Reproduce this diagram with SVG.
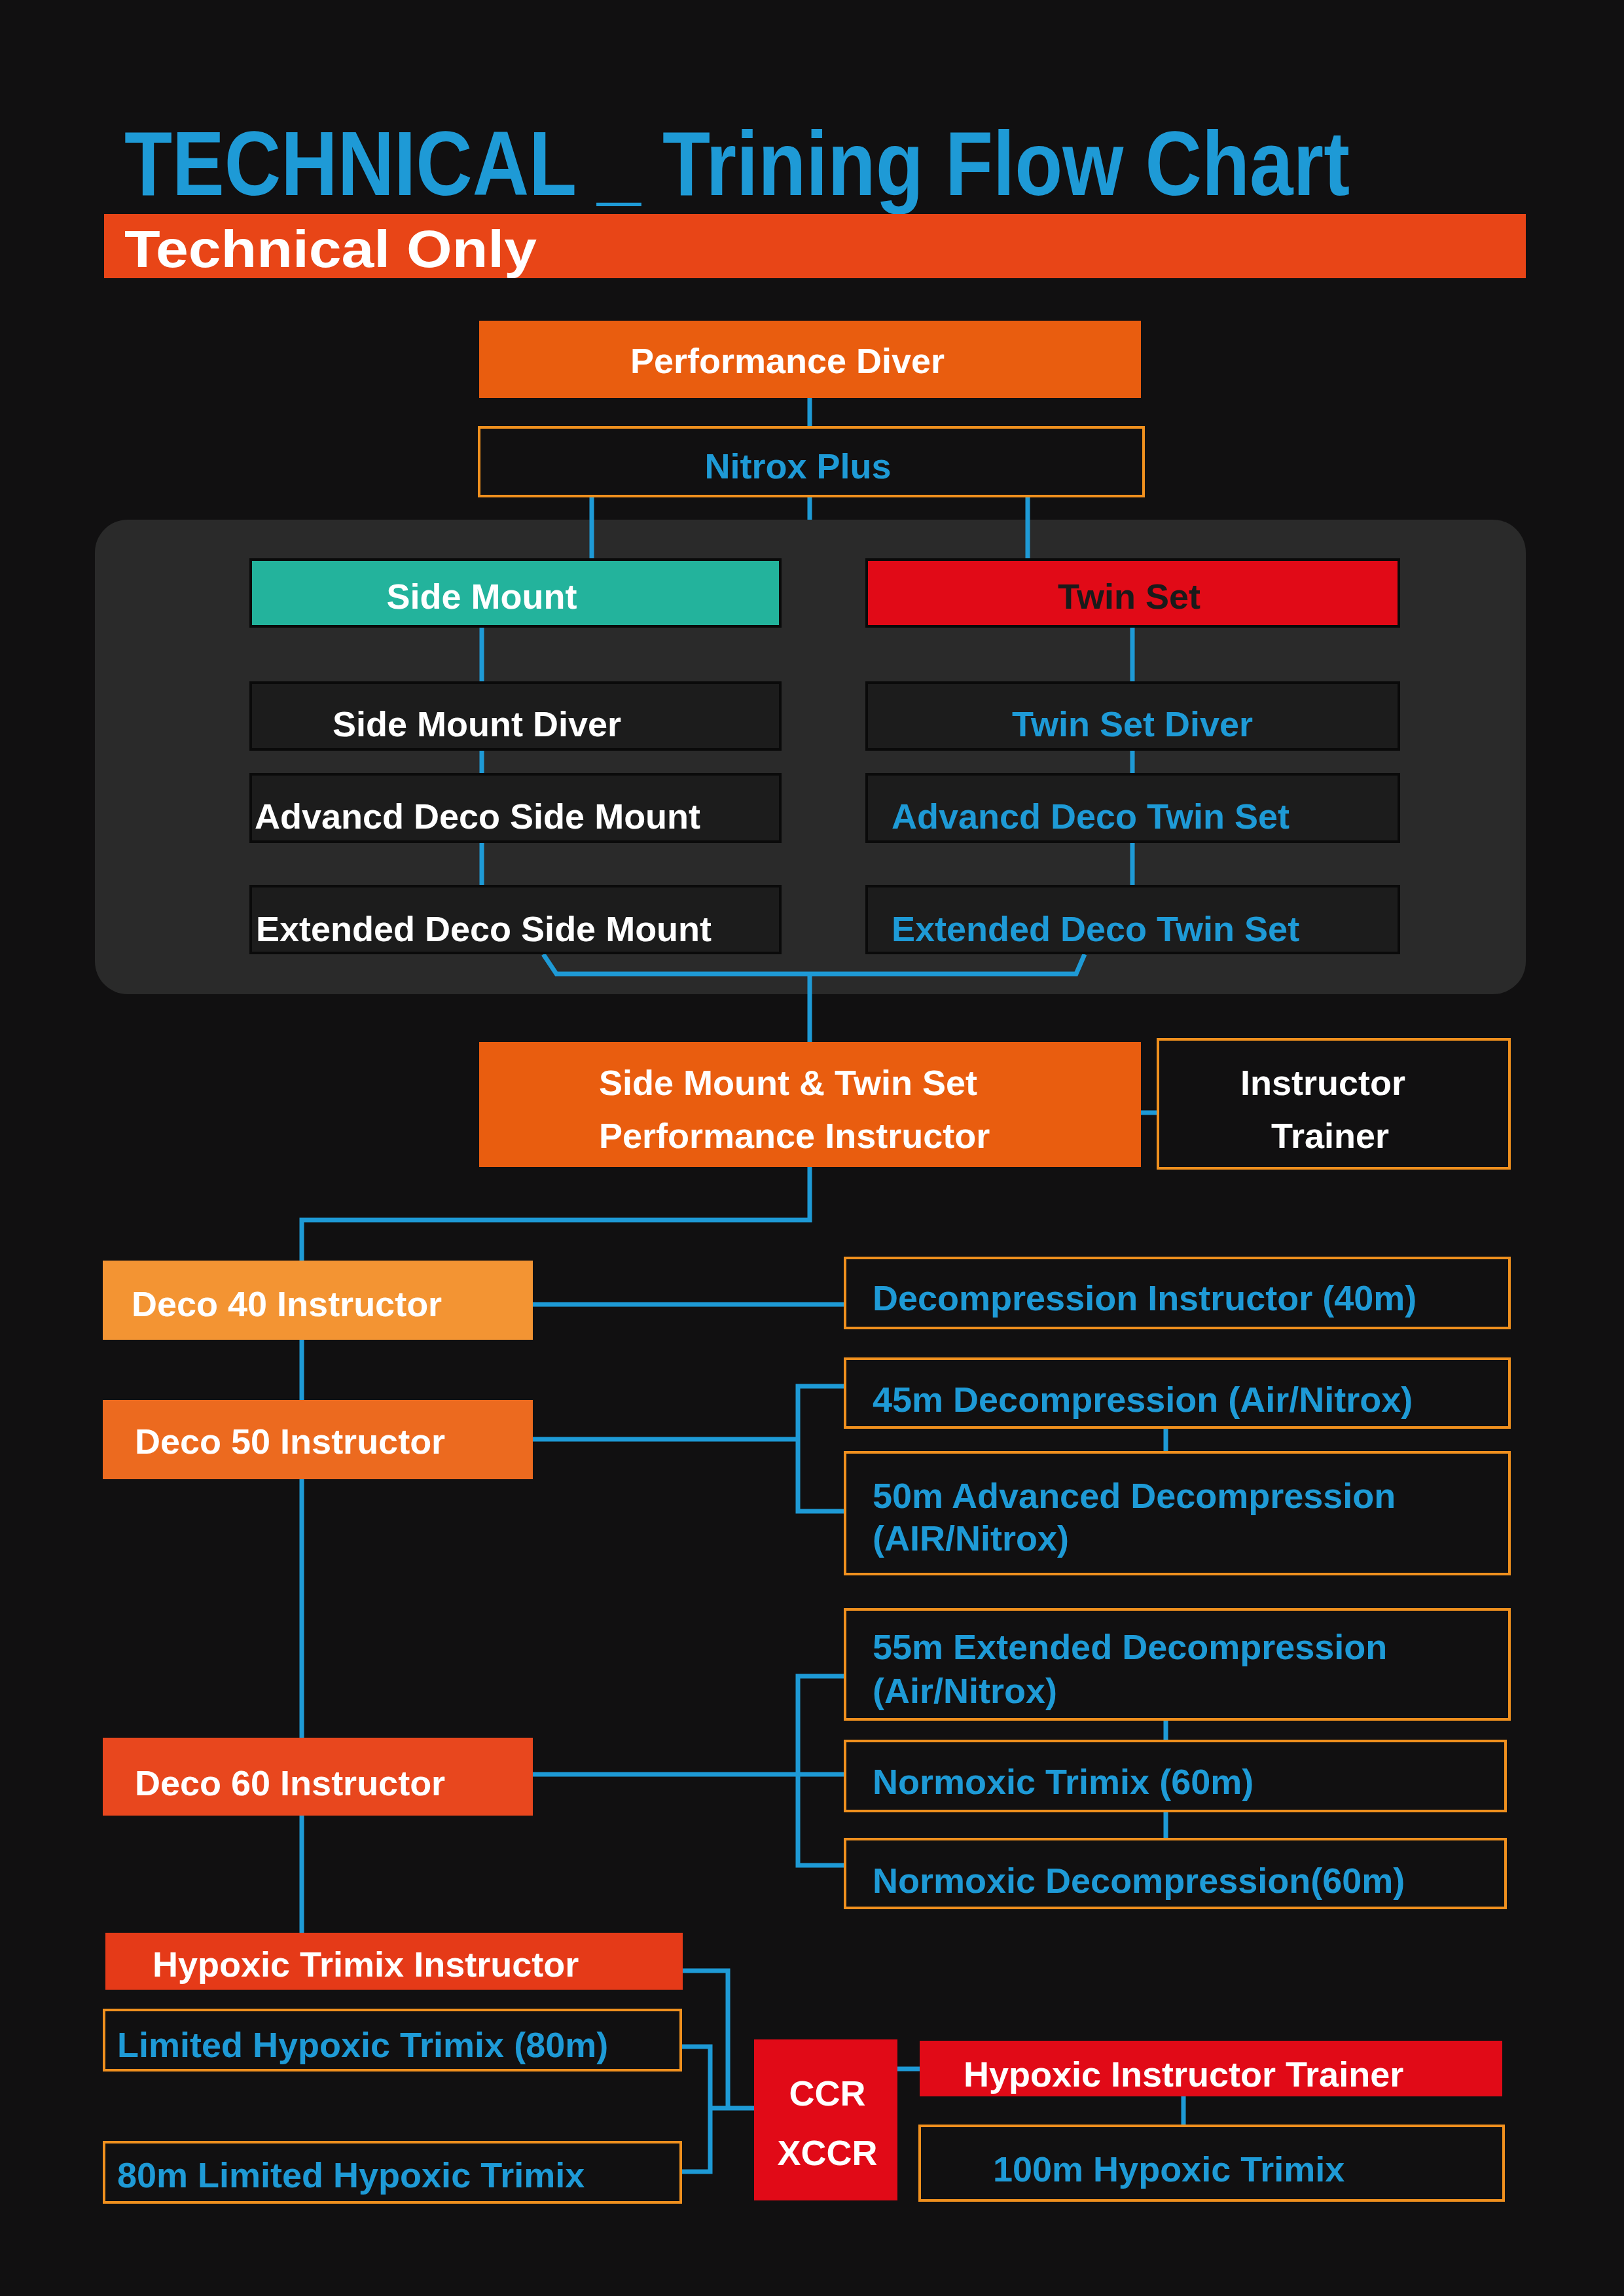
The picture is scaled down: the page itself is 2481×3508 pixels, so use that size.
<svg xmlns="http://www.w3.org/2000/svg" width="2481" height="3508" viewBox="0 0 2481 3508">
<style>
text{font-family:"Liberation Sans",Arial,sans-serif;font-weight:bold;font-size:54px}
.w{fill:#ffffff}.b{fill:#1e9ad6}.k{fill:#1a1a1a}
.ob{fill:#111011;stroke:#f0901e;stroke-width:4}
.db{fill:#1c1c1c;stroke:#0a0a0a;stroke-width:4}
.c{fill:none;stroke:#1e9ad6;stroke-width:7}
</style>
<rect width="2481" height="3508" fill="#111011"/>
<text x="190" y="298" class="b" style="font-size:140px" textLength="1872" lengthAdjust="spacingAndGlyphs">TECHNICAL _ Trining Flow Chart</text>
<rect x="159" y="327" width="2172" height="98" fill="#e84517"/>
<text x="190" y="408" class="w" style="font-size:80px" textLength="630" lengthAdjust="spacingAndGlyphs">Technical  Only</text>
<rect x="145" y="794" width="2186" height="725" rx="50" fill="#2a2a2a"/>
<g id="connectors">
<path class="c" d="M1237 608V653M904 758V855M1237 758V794M1570 758V855"/>
<path class="c" d="M736 957V1043M736 1145V1183M736 1286V1354M1730 957V1043M1730 1145V1183M1730 1286V1354"/>
<path class="c" d="M830 1458L850 1488H1644L1657 1458M1237 1488V1592"/>
<path class="c" d="M1743 1700H1769M1237 1783V1864H461V1926"/>
<path class="c" d="M461 2047V2139M461 2260V2655M461 2774V2953"/>
<path class="c" d="M814 1993H1291"/>
<path class="c" d="M814 2199H1219M1291 2118H1219V2309H1291M1781 2181V2219"/>
<path class="c" d="M814 2711H1291M1291 2561H1219V2850H1291M1781 2627V2660M1781 2767V2810"/>
<path class="c" d="M1043 3011H1112V3221M1040 3127H1085V3318H1040M1085 3221H1152M1371 3161H1405M1808 3203V3248"/>
</g>
<g id="performance-diver"><rect x="732" y="490" width="1011" height="118" fill="#e95d0f"/><text x="1203" y="570" class="w" text-anchor="middle">Performance Diver</text></g>
<g id="nitrox-plus"><rect x="732" y="653" width="1015" height="105" class="ob"/><text x="1219" y="731" class="b" text-anchor="middle">Nitrox Plus</text></g>
<g id="side-mount"><rect x="383" y="855" width="809" height="102" fill="#23b39c" stroke="#0a0a0a" stroke-width="4"/><text x="736" y="930" class="w" text-anchor="middle">Side Mount</text></g>
<g id="twin-set"><rect x="1324" y="855" width="813" height="102" fill="#e10a17" stroke="#0a0a0a" stroke-width="4"/><text x="1725" y="930" class="k" text-anchor="middle">Twin Set</text></g>
<g id="sm-diver"><rect x="383" y="1043" width="809" height="102" class="db"/><text x="508" y="1125" class="w">Side Mount Diver</text></g>
<g id="ts-diver"><rect x="1324" y="1043" width="813" height="102" class="db"/><text x="1730" y="1125" class="b" text-anchor="middle">Twin Set Diver</text></g>
<g id="sm-adv"><rect x="383" y="1183" width="809" height="103" class="db"/><text x="389" y="1266" class="w">Advancd  Deco Side Mount</text></g>
<g id="ts-adv"><rect x="1324" y="1183" width="813" height="103" class="db"/><text x="1362" y="1266" class="b">Advancd Deco Twin Set</text></g>
<g id="sm-ext"><rect x="383" y="1354" width="809" height="102" class="db"/><text x="391" y="1438" class="w">Extended Deco Side Mount</text></g>
<g id="ts-ext"><rect x="1324" y="1354" width="813" height="102" class="db"/><text x="1362" y="1438" class="b">Extended Deco Twin Set</text></g>
<g id="smts-instructor"><rect x="732" y="1592" width="1011" height="191" fill="#e95d0f"/><text x="915" y="1673" class="w">Side Mount &amp; Twin Set</text><text x="915" y="1754" class="w">Performance Instructor</text></g>
<g id="instructor-trainer"><rect x="1769" y="1588" width="537" height="197" class="ob"/><text x="1895" y="1673" class="w">Instructor</text><text x="1942" y="1754" class="w">Trainer</text></g>
<g id="deco40"><rect x="157" y="1926" width="657" height="121" fill="#f39433"/><text x="201" y="2011" class="w">Deco 40 Instructor</text></g>
<g id="decomp40"><rect x="1291" y="1922" width="1015" height="107" class="ob"/><text x="1333" y="2002" class="b">Decompression Instructor (40m)</text></g>
<g id="deco50"><rect x="157" y="2139" width="657" height="121" fill="#ec6a1f"/><text x="206" y="2221" class="w">Deco 50 Instructor</text></g>
<g id="decomp45"><rect x="1291" y="2076" width="1015" height="105" class="ob"/><text x="1333" y="2157" class="b">45m Decompression (Air/Nitrox)</text></g>
<g id="decomp50"><rect x="1291" y="2219" width="1015" height="186" class="ob"/><text x="1333" y="2304" class="b">50m Advanced Decompression</text><text x="1333" y="2369" class="b">(AIR/Nitrox)</text></g>
<g id="deco60"><rect x="157" y="2655" width="657" height="119" fill="#e8471e"/><text x="206" y="2743" class="w">Deco 60 Instructor</text></g>
<g id="decomp55"><rect x="1291" y="2459" width="1015" height="168" class="ob"/><text x="1333" y="2535" class="b">55m Extended Decompression</text><text x="1333" y="2602" class="b">(Air/Nitrox)</text></g>
<g id="normoxic-trimix"><rect x="1291" y="2660" width="1009" height="107" class="ob"/><text x="1333" y="2741" class="b">Normoxic Trimix (60m)</text></g>
<g id="normoxic-deco"><rect x="1291" y="2810" width="1009" height="105" class="ob"/><text x="1333" y="2892" class="b">Normoxic Decompression(60m)</text></g>
<g id="hypoxic-instructor"><rect x="161" y="2953" width="882" height="87" fill="#e53a18"/><text x="233" y="3020" class="w">Hypoxic Trimix Instructor</text></g>
<g id="limited-80"><rect x="159" y="3071" width="881" height="92" class="ob"/><text x="179" y="3143" class="b">Limited Hypoxic Trimix (80m)</text></g>
<g id="limited-80b"><rect x="159" y="3273" width="881" height="92" class="ob"/><text x="179" y="3342" class="b">80m Limited Hypoxic Trimix</text></g>
<g id="ccr"><rect x="1152" y="3116" width="219" height="246" fill="#e10a17"/><text x="1264" y="3217" class="w" text-anchor="middle">CCR</text><text x="1264" y="3308" class="w" text-anchor="middle">XCCR</text></g>
<g id="hypoxic-trainer"><rect x="1405" y="3118" width="890" height="85" fill="#e10a17"/><text x="1472" y="3188" class="w">Hypoxic Instructor Trainer</text></g>
<g id="hypoxic-100"><rect x="1405" y="3248" width="892" height="114" class="ob"/><text x="1517" y="3333" class="b">100m Hypoxic Trimix</text></g>
</svg>
